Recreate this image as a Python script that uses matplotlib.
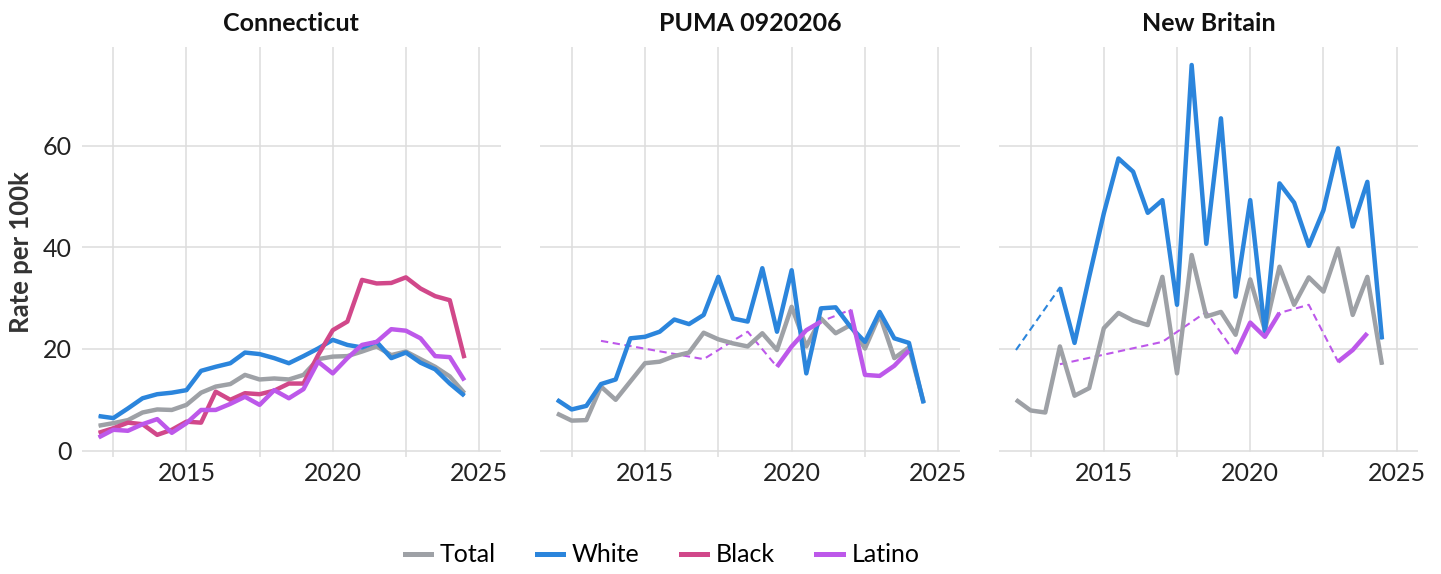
import numpy as np
import matplotlib
matplotlib.use("Agg")
import matplotlib.pyplot as plt
from matplotlib.lines import Line2D

plt.rcParams['font.family'] = ['Lato', 'DejaVu Sans']

nan = np.nan

# semi-annual periods
years = [2012.0, 2012.5, 2013.0, 2013.5, 2014.0, 2014.5, 2015.0, 2015.5, 2016.0, 2016.5,
         2017.0, 2017.5, 2018.0, 2018.5, 2019.0, 2019.5, 2020.0, 2020.5, 2021.0, 2021.5,
         2022.0, 2022.5, 2023.0, 2023.5, 2024.0, 2024.5]

panels = ["Connecticut", "PUMA 0920206", "New Britain"]
groups = ["Total", "White", "Black", "Latino"]
colors = {"Total": "#9EA1A6", "White": "#2B85DC", "Black": "#D1488A", "Latino": "#BD58EA"}

# Connecticut
ct_total = [4.9, 5.4, 6.0, 7.5, 8.1, 8.0, 9.0, 11.4, 12.6, 13.1, 14.9, 14.0, 14.2, 14.0, 14.9,
            18.0, 18.5, 18.6, 19.5, 20.5, 18.8, 19.5, 18.0, 16.5, 14.6, 11.3]
ct_white = [6.8, 6.4, 8.3, 10.3, 11.1, 11.4, 11.9, 15.7, 16.5, 17.2, 19.3, 19.0, 18.2, 17.2, 18.6,
            20.1, 21.8, 20.8, 20.3, 21.4, 18.2, 19.3, 17.3, 16.0, 13.2, 10.8]
ct_black = [3.5, 4.4, 5.5, 5.2, 3.1, 4.1, 5.7, 5.5, 11.6, 10.0, 11.3, 11.1, 11.8, 13.2, 13.2,
            18.8, 23.7, 25.4, 33.6, 32.9, 33.0, 34.1, 31.9, 30.4, 29.6, 18.2]
ct_latino = [2.6, 4.1, 3.9, 5.2, 6.2, 3.5, 5.4, 8.0, 8.0, 9.2, 10.6, 9.0, 11.9, 10.3, 12.1,
             17.5, 15.2, 18.2, 20.8, 21.4, 23.9, 23.6, 22.1, 18.6, 18.4, 13.8]

# PUMA 0920206
pu_total = [7.3, 5.9, 6.0, 12.6, 10.0, 13.6, 17.2, 17.5, 18.6, 19.3, 23.2, 21.9, 21.1, 20.5, 23.1,
            19.8, 28.3, 20.5, 26.0, 23.1, 24.7, 20.1, 26.7, 18.2, 20.3, 9.5]
pu_white = [10.0, 8.1, 8.8, 13.1, 14.0, 22.1, 22.4, 23.4, 25.8, 24.9, 26.7, 34.2, 26.0, 25.4, 35.9,
            23.4, 35.5, 15.2, 28.0, 28.2, 24.4, 21.4, 27.3, 22.1, 21.2, 9.3]
pu_black = [nan] * 26
pu_latino = [nan, nan, nan, 21.6, nan, nan, nan, nan, nan, nan, 18.0, nan, nan, 23.4, nan,
             16.5, 20.5, 23.7, 25.4, nan, 27.7, 14.9, 14.7, 16.7, 19.7, nan]

# New Britain
nb_total = [10.0, 7.9, 7.5, 20.5, 10.8, 12.3, 24.1, 27.1, 25.6, 24.7, 34.2, 15.2, 38.5, 26.4, 27.3,
            22.8, 33.7, 23.7, 36.2, 28.7, 34.1, 31.3, 39.8, 26.7, 34.2, 16.9]
nb_white = [19.8, nan, nan, 32.1, 21.2, 34.2, 46.7, 57.5, 54.9, 46.8, 49.3, 28.7, 75.9, 40.7, 65.4,
            30.3, 49.3, 23.4, 52.6, 48.8, 40.3, 47.3, 59.5, 44.1, 52.9, 21.9]
nb_black = [nan] * 26
nb_latino = [nan, nan, nan, 17.0, nan, nan, nan, nan, nan, nan, 21.4, nan, nan, 27.3, nan,
             19.1, 25.2, 22.4, 27.1, nan, 28.7, nan, 17.5, 19.8, 23.1, nan]

data = {
    "Connecticut": {"Total": ct_total, "White": ct_white, "Black": ct_black, "Latino": ct_latino},
    "PUMA 0920206": {"Total": pu_total, "White": pu_white, "Black": pu_black, "Latino": pu_latino},
    "New Britain": {"Total": nb_total, "White": nb_white, "Black": nb_black, "Latino": nb_latino},
}

y_ticks = [0, 20, 40, 60]
x_major = [2015, 2020, 2025]
x_minor = [2012.5, 2017.5, 2022.5]

W, H = 1441, 574
fig = plt.figure(figsize=(W / 100, H / 100), dpi=100)

lefts = [81.7, 540.0, 999.0]
widths = [419.0, 420.0, 419.3]
top_px, bot_px = 46.7, 456.7

grid_c = "#DDDDDD"
ylo, yhi = -1.2, 79.5
x = np.array(years)

axes = []
for i, name in enumerate(panels):
    ax = fig.add_axes([lefts[i] / W, 1 - bot_px / H, widths[i] / W, (bot_px - top_px) / H])
    axes.append(ax)
    ax.set_xlim(2011.42, 2025.74)
    ax.set_ylim(ylo, yhi)
    for s in ax.spines.values():
        s.set_visible(False)
    ax.set_yticks(y_ticks)
    ax.set_xticks(x_major)
    ax.set_xticks(x_minor, minor=True)
    ax.grid(axis="y", color=grid_c, lw=1.1)
    ax.grid(axis="x", which="minor", color=grid_c, lw=1.1)
    frac0 = (0 - ylo) / (yhi - ylo)
    for t in x_major:
        ax.axvline(t, ymin=frac0, ymax=1, color=grid_c, lw=1.1, zorder=0.5)
    ax.set_axisbelow(True)
    ax.tick_params(axis="both", which="both", length=0, labelsize=18, colors="#222222")
    ax.tick_params(axis="x", pad=4)
    ax.tick_params(axis="y", pad=7)
    if i > 0:
        ax.set_yticklabels([])
    ax.set_title(name, fontsize=18, fontweight="bold", pad=11, color="#111111")

    for g in groups:
        y = np.array(data[name][g], dtype=float)
        m = ~np.isnan(y)
        if m.sum() == 0:
            continue
        ax.plot(x[m], y[m], color=colors[g], lw=1.5, ls=(0, (3.5, 2.2)), zorder=2)
        ax.plot(x, y, color=colors[g], lw=3.2, solid_capstyle="butt", zorder=3)

axes[0].set_ylabel("Rate per 100k", fontsize=18.5, fontweight="bold", color="#333333", labelpad=7)

handles = [Line2D([0], [0], color=colors[g], lw=3.6) for g in groups]
fig.legend(handles, groups, loc="center", bbox_to_anchor=(662 / W, 1 - 555 / H), ncol=4,
           frameon=False, fontsize=18, handlelength=1.05, handletextpad=0.35,
           columnspacing=1.65)

fig.savefig("out.png", dpi=100)
